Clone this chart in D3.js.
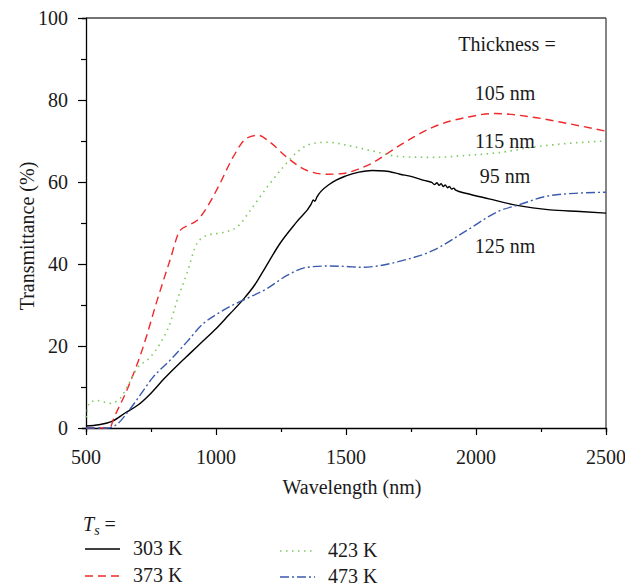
<!DOCTYPE html>
<html><head><meta charset="utf-8">
<script src="https://cdn.jsdelivr.net/npm/d3@7"></script>
<style>body{margin:0;background:#fff}</style>
</head><body><svg id="c" width="625" height="587" font-family="'Liberation Serif', 'DejaVu Serif', serif"></svg>
<script>
// ---- data ----
const xTicks = [500, 1000, 1500, 2000, 2500];
const yTicks = [0, 20, 40, 60, 80, 100];
const seriesNames = ["303 K", "373 K", "423 K", "473 K"];
const thicknessLabels = ["105 nm", "115 nm", "95 nm", "125 nm"];

const wl303 = [500,550,600,656,700,750,800,850,900,950,1000,1050,1104,1150,1181,1246,1312,1366,1374,1380,1388,1438,1500,1550,1600,1650,1708,1760,1800,1830,1840,1850,1858,1866,1874,1882,1890,1898,1906,1914,1922,1965,2050,2158,2285,2400,2500];
const t303  = [0.5,0.8,1.6,3.9,5.6,8.5,12,15.2,18.2,21.2,24.2,27.6,31.3,35,38.2,45,50.4,54.6,55.6,55.3,56.3,59.5,61.5,62.4,62.8,62.7,61.9,61.2,60.4,59.9,59.4,59.8,59.2,59.6,58.9,59.3,58.6,58.9,58.3,58.5,58,57.2,55.9,54.3,53.2,52.8,52.4];

const wl373 = [500,550,592,604,657,719,773,823,862,900,927,965,1015,1065,1119,1162,1208,1273,1350,1427,1480,1550,1600,1708,1835,1965,2073,2219,2350,2500];
const t373  = [0,0,0,1.9,9.2,19.6,31,40.9,48.2,49.6,50.6,53.8,59.6,66,70.7,71.4,69.7,66,62.8,61.9,62,63.2,64.6,69,73.4,75.8,76.7,75.8,74.3,72.4];

const wl423 = [500,515,542,592,631,657,696,746,785,823,850,888,927,965,1027,1081,1131,1196,1258,1312,1373,1431,1500,1600,1708,1835,1965,2092,2219,2350,2500];
const t423  = [2.6,6.3,6.7,6,7.2,9.9,14.5,17.2,20.6,25.5,31,37.7,45,47,47.7,49,53,58.7,63.6,67.3,69.4,69.7,69,67.6,66.2,66,66.5,67.2,68.5,69.4,70];

const wl473 = [500,581,619,657,708,758,823,888,950,1004,1065,1119,1196,1273,1350,1427,1500,1560,1620,1708,1835,1965,2092,2158,2285,2400,2500];
const t473  = [0,0,0.9,3.6,8,12.4,16.5,21,25.4,27.8,30,31.6,34,37.2,39.2,39.5,39.4,39.2,39.5,40.7,43.3,48.2,53,54.3,56.7,57.3,57.5];

// ---- layout ----
const svg = d3.select("#c");
const L = 86, R = 606, T = 18, B = 428;
const x = d3.scaleLinear().domain([500, 2500]).range([L, R]);
const y = d3.scaleLinear().domain([0, 100]).range([B, T]);
const ink = "#1a1a1a";

svg.append("line").attr("x1", L).attr("x2", R).attr("y1", T).attr("y2", T).attr("stroke", "#444").attr("stroke-width", 1.3);
svg.append("line").attr("x1", R).attr("x2", R).attr("y1", T).attr("y2", B).attr("stroke", "#444").attr("stroke-width", 1.3);

const fs = 20;
const xa = svg.append("g").attr("transform", `translate(0,${B})`)
  .call(d3.axisBottom(x).tickValues(d3.range(500, 2501, 250)).tickSize(4).tickFormat(""));
xa.selectAll(".tick line").attr("y2", d => xTicks.includes(d) ? 7 : 4);
xa.append("g").selectAll("text").data(xTicks).join("text")
  .attr("x", d => x(d)).attr("y", 36).attr("text-anchor", "middle").attr("font-size", fs).attr("fill", ink).text(d => d);
const ya = svg.append("g").attr("transform", `translate(${L},0)`)
  .call(d3.axisLeft(y).tickValues(d3.range(0, 101, 10)).tickSize(4).tickFormat(""));
ya.selectAll(".tick line").attr("x2", d => yTicks.includes(d) ? -8 : -5);
ya.append("g").selectAll("text").data(yTicks).join("text")
  .attr("x", -18).attr("y", d => y(d) + 7).attr("text-anchor", "end").attr("font-size", fs).attr("fill", ink).text(d => d);
svg.selectAll(".domain").attr("stroke", "#000").attr("stroke-width", 1.3);
svg.selectAll(".tick line").attr("stroke", "#000").attr("stroke-width", 1.2);
svg.selectAll("g").attr("font-family", null);

svg.append("text").attr("x", 352).attr("y", 494).attr("text-anchor", "middle").attr("font-size", fs).attr("fill", ink).text("Wavelength (nm)");
svg.append("text").attr("transform", `translate(34,236) rotate(-90)`).attr("text-anchor", "middle").attr("font-size", fs).attr("fill", ink).text("Transmittance (%)");

const styles = [
  {wl: wl303, t: t303, color: "#000000", dash: null, w: 1.4},
  {wl: wl373, t: t373, color: "#f0282a", dash: "8,5", w: 1.4},
  {wl: wl423, t: t423, color: "#7ac95c", dash: "1.5,4.5", w: 1.6},
  {wl: wl473, t: t473, color: "#3a5aae", dash: "9,3,2,3", w: 1.4}
];
const line = d3.line().curve(d3.curveMonotoneX);
styles.forEach(s => {
  const pts = s.wl.map((w, i) => [x(w), y(s.t[i])]);
  svg.append("path").attr("d", line(pts)).attr("fill", "none")
    .attr("stroke", s.color).attr("stroke-width", s.w)
    .attr("stroke-dasharray", s.dash);
});

svg.append("text").attr("x", 507).attr("y", 51).attr("text-anchor", "middle").attr("font-size", fs).attr("fill", ink).text("Thickness =");
const labY = [100, 148, 183, 253];
thicknessLabels.forEach((t, i) => {
  svg.append("text").attr("x", 505).attr("y", labY[i]).attr("text-anchor", "middle").attr("font-size", fs).attr("fill", ink).text(t);
});

const ts = svg.append("text").attr("x", 83).attr("y", 531).attr("font-size", fs).attr("fill", ink);
ts.append("tspan").attr("font-style", "italic").text("T");
ts.append("tspan").attr("font-style", "italic").attr("font-size", 14).attr("dy", 4).text("s");
ts.append("tspan").attr("dy", -4).text(" =");
const legPos = [[85, 549], [85, 576], [280, 551], [280, 577]];
styles.forEach((s, i) => {
  const [lx, ly] = legPos[i];
  svg.append("line").attr("x1", lx).attr("x2", lx + 35).attr("y1", ly).attr("y2", ly)
    .attr("stroke", s.color).attr("stroke-width", s.w).attr("stroke-dasharray", s.dash);
  svg.append("text").attr("x", lx + 48).attr("y", ly + 6).attr("font-size", fs).attr("fill", ink).text(seriesNames[i]);
});
</script></body></html>
